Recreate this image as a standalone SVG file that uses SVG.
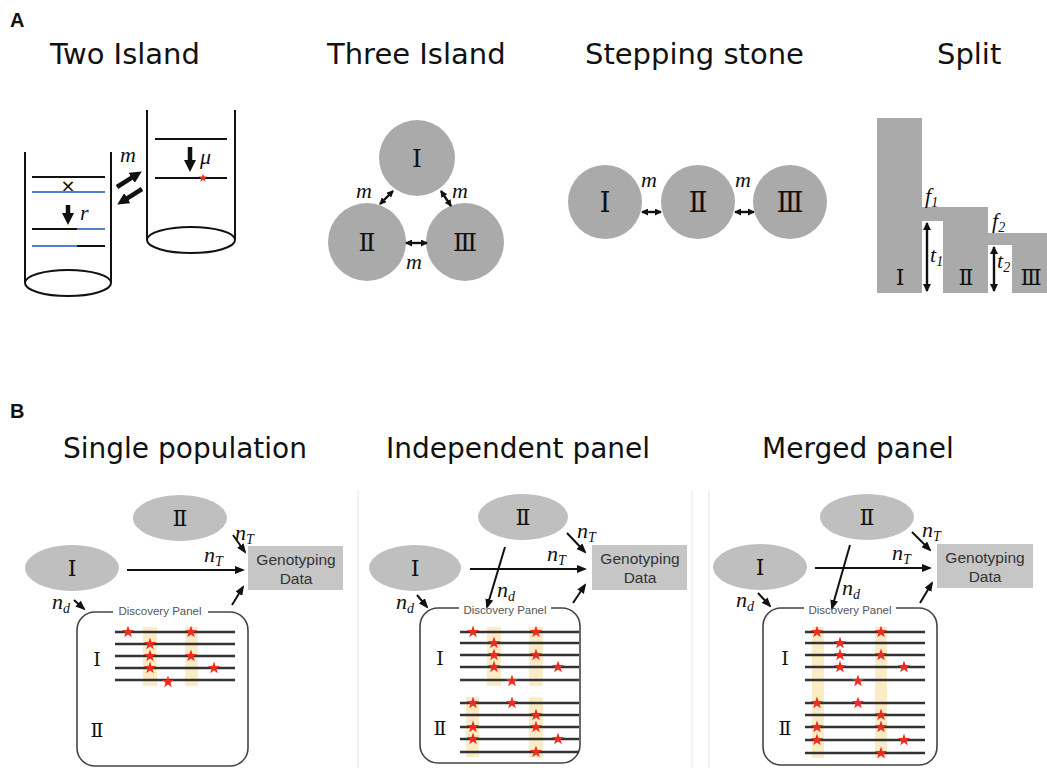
<svg xmlns="http://www.w3.org/2000/svg" xmlns:xlink="http://www.w3.org/1999/xlink" width="1047" height="768" viewBox="0 0 1047 768">
<style>
.ttl{font-family:"DejaVu Sans",Verdana,sans-serif;font-size:29px;fill:#111}
.ttlb{font-family:"DejaVu Sans",Verdana,sans-serif;font-size:28px;fill:#111}
.lab{font-family:"Liberation Sans",Arial,sans-serif;font-weight:bold;font-size:20px;fill:#111}
.rom{font-family:"DejaVu Serif","Liberation Serif",serif;fill:#111;text-anchor:middle}
.mi{font-family:"Liberation Serif","DejaVu Serif",serif;font-style:italic;font-size:22px;fill:#111}
.sub{font-size:14px}
.gt{font-family:"Liberation Sans",Arial,sans-serif;font-size:15.5px;fill:#333;text-anchor:middle}
.dp{font-family:"Liberation Sans",Arial,sans-serif;font-size:11.5px;fill:#555;text-anchor:middle}
.wall{stroke:#111;stroke-width:2;fill:none}
.blk{stroke:#111;stroke-width:2}
.blu{stroke:#4f7fcf;stroke-width:2}
.circ{fill:#aaaaaa}
.ell{fill:#bfbfbf}
.box{fill:#c6c6c6}
.pan{fill:none;stroke:#444;stroke-width:1.6}
.ln{stroke:#333;stroke-width:2.5}
.hl{fill:#fbecc5}
.st{fill:#ee2b1e}
.thick{stroke:#111;stroke-width:4.5;fill:none}
.dbl{stroke:#111;stroke-width:2.4;fill:none}
.arr{stroke:#111;stroke-width:2;fill:none}
.sep{stroke:#e4e4e4;stroke-width:1}
</style>
<defs>
<marker id="big" viewBox="0 0 12 12" refX="4" refY="6" markerWidth="12" markerHeight="12" markerUnits="userSpaceOnUse" orient="auto-start-reverse"><path d="M0,0 L12,6 L0,12 z" fill="#111"/></marker>
<marker id="sm" viewBox="0 0 7 7" refX="6" refY="3.5" markerWidth="7" markerHeight="7" markerUnits="userSpaceOnUse" orient="auto-start-reverse"><path d="M0,0 L7,3.5 L0,7 z" fill="#111"/></marker>
<marker id="md" viewBox="0 0 8 8" refX="7" refY="4" markerWidth="8" markerHeight="8" markerUnits="userSpaceOnUse" orient="auto-start-reverse"><path d="M0,0 L8,4 L0,8 z" fill="#111"/></marker>
<marker id="b" viewBox="0 0 10 8" refX="8" refY="4" markerWidth="10" markerHeight="8" markerUnits="userSpaceOnUse" orient="auto-start-reverse"><path d="M0,0 L10,4 L0,8 z" fill="#111"/></marker>
<path id="star" d="M0,-6.5 L1.53,-2.1 L6.18,-2.01 L2.47,0.8 L3.82,5.26 L0,2.6 L-3.82,5.26 L-2.47,0.8 L-6.18,-2.01 L-1.53,-2.1 Z"/>
</defs>
<rect width="1047" height="768" fill="#fff"/>

<!-- faint separators -->
<g id="separators">
<line class="sep" x1="358" y1="490" x2="358" y2="768"/>
<line class="sep" x1="692" y1="490" x2="692" y2="768"/>
<line class="sep" x1="709" y1="490" x2="709" y2="768"/>
</g>

<!-- Panel labels and titles -->
<text class="lab" x="10" y="27">A</text>
<text class="lab" x="10" y="418">B</text>
<text class="ttl" x="50" y="64">Two Island</text>
<text class="ttl" x="327" y="64">Three Island</text>
<text class="ttl" x="585" y="64">Stepping stone</text>
<text class="ttl" x="937" y="64">Split</text>
<text class="ttlb" x="63" y="458">Single population</text>
<text class="ttlb" x="386" y="458">Independent panel</text>
<text class="ttlb" x="762" y="458">Merged panel</text>

<!-- Two Island -->
<g id="two-island-left">
<path class="wall" d="M25,152 V283 M111,152 V283"/>
<ellipse class="wall" cx="68" cy="283" rx="43" ry="13"/>
<line class="blk" x1="32" y1="177" x2="105" y2="177"/>
<text x="68" y="192" font-family="DejaVu Sans,sans-serif" font-size="18" fill="#111" text-anchor="middle">×</text>
<line class="blu" x1="32" y1="192" x2="105" y2="192"/>
<line class="thick" x1="68" y1="205" x2="68" y2="217" marker-end="url(#big)"/>
<text class="mi" x="80" y="220">r</text>
<line class="blk" x1="32" y1="229" x2="77" y2="229"/>
<line class="blu" x1="77" y1="229" x2="105" y2="229"/>
<line class="blu" x1="32" y1="246" x2="77" y2="246"/>
<line class="blk" x1="77" y1="246" x2="105" y2="246"/>
</g>
<g id="two-island-right">
<path class="wall" d="M147,110 V240 M235,110 V240"/>
<ellipse class="wall" cx="191" cy="240" rx="44" ry="13"/>
<line class="blk" x1="155" y1="139" x2="227" y2="139"/>
<line class="blk" x1="155" y1="178" x2="227" y2="178"/>
<use xlink:href="#star" x="203" y="178" class="st" transform="translate(203,178) scale(0.7) translate(-203,-178)"/>
<line class="thick" x1="190" y1="147" x2="190" y2="164" marker-end="url(#big)"/>
<text class="mi" x="200" y="164">μ</text>
</g>
<g id="two-island-migration">
<text class="mi" x="120" y="162">m</text>
<line class="thick" x1="117" y1="187" x2="135" y2="175.7" marker-end="url(#big)"/>
<line class="thick" x1="142" y1="189" x2="124" y2="200.3" marker-end="url(#big)"/>
</g>

<!-- Three Island -->
<g id="three-I"><circle class="circ" cx="417" cy="158" r="38"/><text class="rom" x="417" y="167" font-size="25">Ⅰ</text></g>
<g id="three-II"><circle class="circ" cx="367" cy="242" r="39"/><text class="rom" x="367" y="251" font-size="25">Ⅱ</text></g>
<g id="three-III"><circle class="circ" cx="465" cy="242" r="39"/><text class="rom" x="465" y="251" font-size="25">Ⅲ</text></g>
<g id="three-links">
<line class="dbl" x1="380" y1="204" x2="393" y2="191" marker-start="url(#sm)" marker-end="url(#sm)"/>
<line class="dbl" x1="441" y1="191" x2="451" y2="206" marker-start="url(#sm)" marker-end="url(#sm)"/>
<line class="dbl" x1="406" y1="243" x2="427" y2="243" marker-start="url(#sm)" marker-end="url(#sm)"/>
<text class="mi" x="356" y="198">m</text>
<text class="mi" x="452" y="198">m</text>
<text class="mi" x="406" y="269">m</text>
</g>

<!-- Stepping stone -->
<g id="step-I"><circle class="circ" cx="605" cy="202" r="37"/><text class="rom" x="605" y="212" font-size="28">Ⅰ</text></g>
<g id="step-II"><circle class="circ" cx="698" cy="202" r="37"/><text class="rom" x="698" y="212" font-size="28">Ⅱ</text></g>
<g id="step-III"><circle class="circ" cx="790" cy="202" r="37"/><text class="rom" x="790" y="212" font-size="28">Ⅲ</text></g>
<g id="step-links">
<line class="dbl" x1="642" y1="212" x2="661" y2="212" marker-start="url(#sm)" marker-end="url(#sm)"/>
<line class="dbl" x1="735" y1="212" x2="754" y2="212" marker-start="url(#sm)" marker-end="url(#sm)"/>
<text class="mi" x="641" y="187">m</text>
<text class="mi" x="735" y="187">m</text>
</g>

<!-- Split -->
<g id="split">
<path class="circ" d="M877,118 H922 V207 H988 V233 H1047 V293 H1012 V245 H988 V293 H943 V221 H922 V293 H877 Z"/>
<text class="rom" x="900" y="285" font-size="22">Ⅰ</text>
<text class="rom" x="966" y="285" font-size="22">Ⅱ</text>
<text class="rom" x="1031" y="285" font-size="22">Ⅲ</text>
<line class="dbl" x1="927" y1="223" x2="927" y2="291" marker-start="url(#md)" marker-end="url(#md)"/>
<line class="dbl" x1="994" y1="247" x2="994" y2="291" marker-start="url(#md)" marker-end="url(#md)"/>
<text class="mi" x="925" y="203">f<tspan class="sub" dy="4">1</tspan></text>
<text class="mi" x="992" y="228">f<tspan class="sub" dy="4">2</tspan></text>
<text class="mi" x="930" y="262">t<tspan class="sub" dy="4">1</tspan></text>
<text class="mi" x="997" y="268">t<tspan class="sub" dy="4">2</tspan></text>
</g>

<!-- ===== B: Single population ===== -->
<g id="sp-II"><ellipse class="ell" cx="180" cy="518" rx="47" ry="23"/><text class="rom" x="180" y="526" font-size="22">Ⅱ</text></g>
<g id="sp-I"><ellipse class="ell" cx="72" cy="568" rx="47" ry="23"/><text class="rom" x="72" y="576" font-size="22">Ⅰ</text></g>
<g id="sp-geno"><rect class="box" x="248" y="546" width="95" height="44"/><text class="gt" x="296" y="565">Genotyping</text><text class="gt" x="296" y="584">Data</text></g>
<g id="sp-panel">
<path class="pan" d="M208,612 H230 A18,18 0 0 1 248,630 V748 A18,18 0 0 1 230,766 H95 A18,18 0 0 1 77,748 V630 A18,18 0 0 1 95,612 H113"/>
<text class="dp" x="160" y="615">Discovery Panel</text>
<rect class="hl" x="143" y="627" width="14" height="59"/>
<rect class="hl" x="185" y="627" width="13" height="59"/>
<line class="ln" x1="115" y1="632" x2="235" y2="632"/>
<line class="ln" x1="115" y1="644" x2="235" y2="644"/>
<line class="ln" x1="115" y1="656" x2="235" y2="656"/>
<line class="ln" x1="115" y1="668" x2="235" y2="668"/>
<line class="ln" x1="115" y1="680" x2="235" y2="680"/>
<g class="st">
<use xlink:href="#star" x="128" y="632"/><use xlink:href="#star" x="191" y="632"/>
<use xlink:href="#star" x="150" y="644"/>
<use xlink:href="#star" x="150" y="656"/><use xlink:href="#star" x="191" y="656"/>
<use xlink:href="#star" x="150" y="668"/><use xlink:href="#star" x="214" y="668"/>
<use xlink:href="#star" x="168" y="682"/>
</g>
<text class="rom" x="97" y="666" font-size="19">Ⅰ</text>
<text class="rom" x="97" y="737" font-size="19">Ⅱ</text>
</g>
<g id="sp-connectors">
<line class="arr" x1="127" y1="570" x2="243" y2="570" marker-end="url(#b)"/>
<line class="arr" x1="233" y1="535" x2="245" y2="552" marker-end="url(#b)"/>
<line class="arr" x1="74" y1="600" x2="84" y2="609" marker-end="url(#b)"/>
<line class="arr" x1="232" y1="605" x2="243" y2="587" marker-end="url(#b)"/>
<text class="mi" x="204" y="562">n<tspan class="sub" dy="4">T</tspan></text>
<text class="mi" x="235" y="540">n<tspan class="sub" dy="4">T</tspan></text>
<text class="mi" x="52" y="609">n<tspan class="sub" dy="4">d</tspan></text>
</g>

<!-- ===== B: Independent panel ===== -->
<g id="ip-II"><ellipse class="ell" cx="523" cy="517" rx="45" ry="23"/><text class="rom" x="523" y="525" font-size="22">Ⅱ</text></g>
<g id="ip-I"><ellipse class="ell" cx="415" cy="568" rx="46" ry="23"/><text class="rom" x="415" y="576" font-size="22">Ⅰ</text></g>
<g id="ip-geno"><rect class="box" x="592" y="545" width="95" height="45"/><text class="gt" x="640" y="564">Genotyping</text><text class="gt" x="640" y="583">Data</text></g>
<g id="ip-panel">
<path class="pan" d="M551,608 H562 A18,18 0 0 1 580,626 V745 A18,18 0 0 1 562,763 H438 A18,18 0 0 1 420,745 V626 A18,18 0 0 1 438,608 H459"/>
<text class="dp" x="505" y="614">Discovery Panel</text>
<rect class="hl" x="487" y="627" width="14" height="59"/>
<rect class="hl" x="529" y="627" width="14" height="59"/>
<rect class="hl" x="466" y="697" width="13" height="60"/>
<rect class="hl" x="529" y="697" width="14" height="60"/>
<line class="ln" x1="460" y1="632" x2="579" y2="632"/>
<line class="ln" x1="460" y1="643" x2="579" y2="643"/>
<line class="ln" x1="460" y1="655" x2="579" y2="655"/>
<line class="ln" x1="460" y1="667" x2="579" y2="667"/>
<line class="ln" x1="460" y1="680" x2="579" y2="680"/>
<line class="ln" x1="460" y1="703" x2="579" y2="703"/>
<line class="ln" x1="460" y1="715" x2="579" y2="715"/>
<line class="ln" x1="460" y1="727" x2="579" y2="727"/>
<line class="ln" x1="460" y1="739" x2="579" y2="739"/>
<line class="ln" x1="460" y1="752" x2="579" y2="752"/>
<g class="st">
<use xlink:href="#star" x="473" y="632"/><use xlink:href="#star" x="536" y="632"/>
<use xlink:href="#star" x="494" y="643"/>
<use xlink:href="#star" x="494" y="655"/><use xlink:href="#star" x="536" y="655"/>
<use xlink:href="#star" x="494" y="667"/><use xlink:href="#star" x="558" y="667"/>
<use xlink:href="#star" x="512" y="681"/>
<use xlink:href="#star" x="473" y="703"/><use xlink:href="#star" x="512" y="703"/>
<use xlink:href="#star" x="536" y="715"/>
<use xlink:href="#star" x="473" y="727"/><use xlink:href="#star" x="536" y="727"/>
<use xlink:href="#star" x="473" y="739"/><use xlink:href="#star" x="558" y="739"/>
<use xlink:href="#star" x="536" y="752"/>
</g>
<text class="rom" x="440" y="665" font-size="19">Ⅰ</text>
<text class="rom" x="440" y="735" font-size="19">Ⅱ</text>
</g>
<g id="ip-connectors">
<line class="arr" x1="470" y1="569" x2="585" y2="569" marker-end="url(#b)"/>
<line class="arr" x1="567" y1="533" x2="585" y2="552" marker-end="url(#b)"/>
<line class="arr" x1="505" y1="547" x2="487" y2="607" marker-end="url(#b)"/>
<line class="arr" x1="417" y1="595" x2="427" y2="607" marker-end="url(#b)"/>
<line class="arr" x1="573" y1="603" x2="585" y2="585" marker-end="url(#b)"/>
<text class="mi" x="547" y="561">n<tspan class="sub" dy="4">T</tspan></text>
<text class="mi" x="577" y="538">n<tspan class="sub" dy="4">T</tspan></text>
<text class="mi" x="497" y="597">n<tspan class="sub" dy="4">d</tspan></text>
<text class="mi" x="396" y="609">n<tspan class="sub" dy="4">d</tspan></text>
</g>

<!-- ===== B: Merged panel ===== -->
<g id="mp-II"><ellipse class="ell" cx="867" cy="517" rx="47" ry="23"/><text class="rom" x="867" y="525" font-size="22">Ⅱ</text></g>
<g id="mp-I"><ellipse class="ell" cx="760" cy="567" rx="47" ry="23"/><text class="rom" x="760" y="575" font-size="22">Ⅰ</text></g>
<g id="mp-geno"><rect class="box" x="937" y="544" width="96" height="44"/><text class="gt" x="985" y="563">Genotyping</text><text class="gt" x="985" y="582">Data</text></g>
<g id="mp-panel">
<path class="pan" d="M896,608 H919 A18,18 0 0 1 937,626 V747 A18,18 0 0 1 919,765 H781 A18,18 0 0 1 763,747 V626 A18,18 0 0 1 781,608 H804"/>
<text class="dp" x="850" y="614">Discovery Panel</text>
<rect class="hl" x="812" y="627" width="12" height="131"/>
<rect class="hl" x="875" y="627" width="12" height="131"/>
<line class="ln" x1="805" y1="632" x2="925" y2="632"/>
<line class="ln" x1="805" y1="643" x2="925" y2="643"/>
<line class="ln" x1="805" y1="655" x2="925" y2="655"/>
<line class="ln" x1="805" y1="667" x2="925" y2="667"/>
<line class="ln" x1="805" y1="680" x2="925" y2="680"/>
<line class="ln" x1="805" y1="703" x2="925" y2="703"/>
<line class="ln" x1="805" y1="715" x2="925" y2="715"/>
<line class="ln" x1="805" y1="727" x2="925" y2="727"/>
<line class="ln" x1="805" y1="740" x2="925" y2="740"/>
<line class="ln" x1="805" y1="753" x2="925" y2="753"/>
<g class="st">
<use xlink:href="#star" x="817" y="632"/><use xlink:href="#star" x="881" y="632"/>
<use xlink:href="#star" x="840" y="643"/>
<use xlink:href="#star" x="840" y="655"/><use xlink:href="#star" x="881" y="655"/>
<use xlink:href="#star" x="840" y="667"/><use xlink:href="#star" x="904" y="667"/>
<use xlink:href="#star" x="858" y="681"/>
<use xlink:href="#star" x="817" y="703"/><use xlink:href="#star" x="858" y="703"/>
<use xlink:href="#star" x="881" y="715"/>
<use xlink:href="#star" x="817" y="727"/><use xlink:href="#star" x="881" y="727"/>
<use xlink:href="#star" x="817" y="740"/><use xlink:href="#star" x="904" y="740"/>
<use xlink:href="#star" x="881" y="753"/>
</g>
<text class="rom" x="785" y="665" font-size="19">Ⅰ</text>
<text class="rom" x="785" y="735" font-size="19">Ⅱ</text>
</g>
<g id="mp-connectors">
<line class="arr" x1="815" y1="568" x2="930" y2="568" marker-end="url(#b)"/>
<line class="arr" x1="912" y1="532" x2="930" y2="550" marker-end="url(#b)"/>
<line class="arr" x1="850" y1="545" x2="832" y2="608" marker-end="url(#b)"/>
<line class="arr" x1="758" y1="593" x2="770" y2="606" marker-end="url(#b)"/>
<line class="arr" x1="920" y1="603" x2="932" y2="583" marker-end="url(#b)"/>
<text class="mi" x="892" y="560">n<tspan class="sub" dy="4">T</tspan></text>
<text class="mi" x="922" y="537">n<tspan class="sub" dy="4">T</tspan></text>
<text class="mi" x="842" y="595">n<tspan class="sub" dy="4">d</tspan></text>
<text class="mi" x="736" y="607">n<tspan class="sub" dy="4">d</tspan></text>
</g>
</svg>
